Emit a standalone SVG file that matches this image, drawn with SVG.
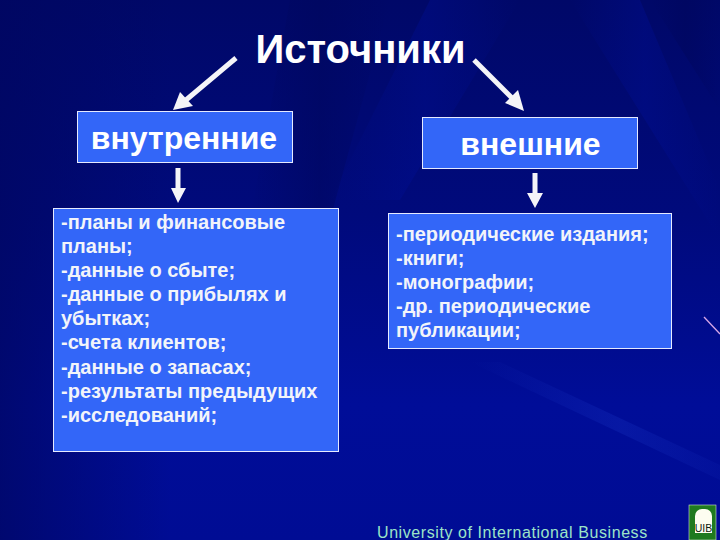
<svg xmlns="http://www.w3.org/2000/svg" width="720" height="540" viewBox="0 0 720 540">
<style>
text{font-family:"Liberation Sans",Arial,sans-serif;font-weight:700;fill:#fff}
.box{fill:#3366f8;stroke:#e6ebff;stroke-width:1}
.h{font-size:32px;text-anchor:middle}
.l{font-size:20px;fill:#f2f4fa}
.a{stroke:#f4f4f8;stroke-width:5;fill:none}
.hd{fill:#f4f4f8}
</style>
<defs>
<linearGradient id="bg" x1="0" y1="0" x2="0" y2="1">
<stop offset="0" stop-color="#000868"/><stop offset=".4" stop-color="#000a7c"/><stop offset=".75" stop-color="#000d98"/><stop offset="1" stop-color="#000c94"/>
</linearGradient>
<linearGradient id="left" x1="0" y1="0" x2="1" y2="0">
<stop offset="0" stop-color="#000660" stop-opacity=".7"/><stop offset="1" stop-color="#000660" stop-opacity="0"/>
</linearGradient>
<linearGradient id="s" x1="0" y1="0" x2="1" y2="0">
<stop offset="0" stop-color="#0010a0" stop-opacity="0"/><stop offset=".5" stop-color="#0010a0" stop-opacity=".3"/><stop offset="1" stop-color="#0010a0" stop-opacity="0"/>
</linearGradient>
<linearGradient id="dk" x1="0" y1="0" x2="1" y2="0">
<stop offset="0" stop-color="#00065c" stop-opacity="0"/><stop offset=".5" stop-color="#00065c" stop-opacity=".5"/><stop offset="1" stop-color="#00065c" stop-opacity="0"/>
</linearGradient>
<linearGradient id="st" x1="0" y1="0" x2="1" y2="0">
<stop offset="0" stop-color="#2040d0" stop-opacity="0"/><stop offset=".6" stop-color="#2040d0" stop-opacity=".22"/><stop offset="1" stop-color="#2040d0" stop-opacity=".08"/>
</linearGradient>
</defs>
<rect width="720" height="540" fill="url(#bg)"/>
<rect width="170" height="540" fill="url(#left)"/>
<polygon points="290,0 390,0 330,220 250,220" fill="url(#dk)"/>
<polygon points="430,0 520,0 400,200 330,200" fill="url(#s)"/>
<polygon points="570,0 640,0 720,190 720,240" fill="url(#s)"/>
<polygon points="650,0 720,0 720,110" fill="url(#dk)"/>
<polygon points="470,362 500,362 720,465 720,480" fill="url(#st)"/>
<line x1="704" y1="317" x2="720" y2="334" stroke="#d8a8e8" stroke-width="1.3"/>
<g id="connectors">
<g><line class="a" x1="236" y1="58" x2="186" y2="100"/><polygon class="hd" points="173,110 180,92 193,106"/></g>
<g><line class="a" x1="474" y1="60" x2="513" y2="99"/><polygon class="hd" points="524,111 505,103 518,90"/></g>
<g><line class="a" x1="178" y1="168" x2="178" y2="190"/><polygon class="hd" points="178,203 171,188 186,188"/></g>
<g><line class="a" x1="535" y1="173" x2="535" y2="195"/><polygon class="hd" points="535,208 527,193 543,193"/></g>
</g>
<g id="title"><text x="360.500" y="63" font-size="40" text-anchor="middle">Источники</text></g>
<g id="internal"><rect class="box" x="77.500" y="111.500" width="215" height="51"/><text class="h" x="184" y="149">внутренние</text></g>
<g id="external"><rect class="box" x="422.500" y="117.500" width="215" height="51"/><text class="h" x="530.500" y="155">внешние</text></g>
<g id="internal-list"><rect class="box" x="53.500" y="208.500" width="285" height="243"/>
<text class="l" x="61" y="229">-планы и финансовые</text>
<text class="l" x="61" y="253">планы;</text>
<text class="l" x="61" y="277">-данные о сбыте;</text>
<text class="l" x="61" y="301">-данные о прибылях и</text>
<text class="l" x="61" y="325">убытках;</text>
<text class="l" x="61" y="349">-счета клиентов;</text>
<text class="l" x="61" y="374">-данные о запасах;</text>
<text class="l" x="61" y="398">-результаты предыдущих</text>
<text class="l" x="61" y="422">-исследований;</text>
</g>
<g id="external-list"><rect class="box" x="388.500" y="213.500" width="283" height="135"/>
<text class="l" x="396" y="241">-периодические издания;</text>
<text class="l" x="396" y="265">-книги;</text>
<text class="l" x="396" y="289">-монографии;</text>
<text class="l" x="396" y="313">-др. периодические</text>
<text class="l" x="396" y="337">публикации;</text>
</g>
<g id="footer"><text x="377" y="538" font-size="16" style="font-weight:400;fill:#9ce4c8;letter-spacing:.58px">University of International Business</text></g>
<g id="logo"><rect x="689" y="505" width="27" height="35" fill="#1f7a1f" stroke="#cfe0cf" stroke-width=".6"/>
<path d="M695 533V516a7 7 0 0 1 7-7h3a7 7 0 0 1 7 7V533Z" fill="#fdfdf0"/>
<text x="703.500" y="532" font-size="10.500" text-anchor="middle" style="font-weight:400;fill:#102010">UIB</text></g>
</svg>
